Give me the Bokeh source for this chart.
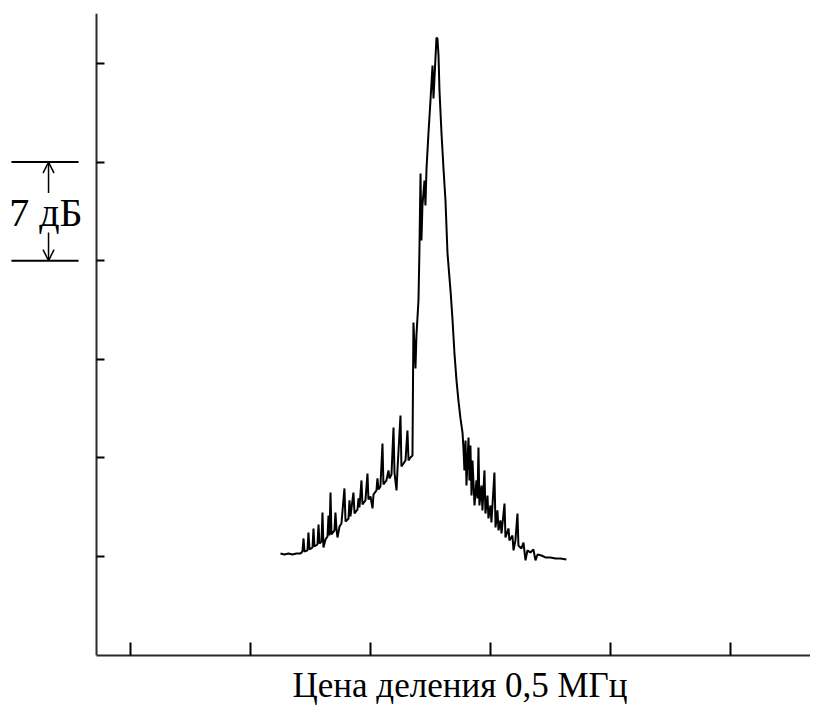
from bokeh.plotting import figure
from bokeh.models import Arrow, OpenHead, FixedTicker, Range1d, Title
from bokeh.core.properties import value
from bokeh.embed import file_html
from bokeh.resources import INLINE

# Frequency in divisions (1 division = 0.5 MHz), level in dB
freq_div = [
    1.250, 1.283, 1.317, 1.350, 1.383, 1.417, 1.433, 1.442, 1.450, 1.475,
    1.483, 1.492, 1.517, 1.525, 1.533, 1.558, 1.567, 1.575, 1.592, 1.600,
    1.608, 1.625, 1.642, 1.650, 1.658, 1.667, 1.675, 1.700, 1.708, 1.717,
    1.725, 1.742, 1.758, 1.783, 1.792, 1.817, 1.825, 1.833, 1.858, 1.867,
    1.892, 1.900, 1.908, 1.925, 1.933, 1.958, 1.975, 1.983, 2.000, 2.017,
    2.025, 2.050, 2.058, 2.067, 2.083, 2.100, 2.108, 2.133, 2.150, 2.158,
    2.175, 2.192, 2.200, 2.217, 2.225, 2.250, 2.258, 2.275, 2.292, 2.308,
    2.317, 2.333, 2.350, 2.358, 2.375, 2.383, 2.400, 2.408, 2.417, 2.425,
    2.433, 2.450, 2.458, 2.467, 2.483, 2.500, 2.517, 2.525, 2.550, 2.558,
    2.567, 2.575, 2.592, 2.608, 2.625, 2.642, 2.667, 2.683, 2.700, 2.717,
    2.733, 2.750, 2.767, 2.775, 2.783, 2.792, 2.800, 2.817, 2.825, 2.833,
    2.842, 2.850, 2.867, 2.883, 2.892, 2.900, 2.908, 2.925, 2.933, 2.950,
    2.958, 2.975, 2.983, 3.000, 3.008, 3.033, 3.042, 3.058, 3.067, 3.083,
    3.092, 3.117, 3.125, 3.150, 3.158, 3.183, 3.192, 3.208, 3.225, 3.233,
    3.258, 3.275, 3.292, 3.308, 3.333, 3.358, 3.375, 3.392, 3.425, 3.458,
    3.500, 3.542, 3.583, 3.633,
]
level_db = [
    0.21, 0.14, 0.21, 0.14, 0.21, 0.21, 0.35, 1.28, 0.35, 0.43,
    1.70, 0.50, 0.64, 1.99, 0.71, 0.85, 2.27, 0.92, 1.06, 3.12,
    0.64, 1.21, 1.42, 2.91, 1.49, 4.54, 1.56, 1.85, 3.12, 1.92,
    1.35, 2.13, 2.34, 4.83, 2.48, 2.70, 3.98, 2.84, 4.54, 3.05,
    3.34, 4.12, 3.48, 5.40, 3.69, 3.98, 5.89, 4.05, 4.26, 3.41,
    4.40, 4.69, 5.54, 4.76, 4.97, 8.02, 5.11, 5.40, 6.11, 5.54,
    5.82, 9.16, 5.96, 4.69, 6.18, 10.01, 6.39, 6.60, 6.82, 8.94,
    6.82, 7.03, 7.17, 16.61, 13.35, 15.69, 18.17, 21.72, 27.19, 22.43,
    24.92, 26.69, 24.92, 27.54, 30.03, 32.37, 34.86, 32.51, 36.84, 36.77,
    35.57, 33.08, 30.03, 27.61, 25.27, 21.51, 18.88, 16.90, 14.41, 12.49,
    11.07, 9.80, 8.80, 7.67, 6.11, 8.23, 5.04, 8.45, 5.40, 7.88,
    4.33, 6.82, 3.62, 5.40, 4.12, 7.74, 3.62, 5.04, 3.27, 6.11,
    3.05, 4.33, 2.70, 3.62, 2.41, 5.96, 2.06, 3.27, 1.85, 2.56,
    1.63, 3.76, 1.35, 1.99, 1.14, 1.49, 0.43, 1.14, 3.05, 0.78,
    0.57, 0.99, -0.28, 0.43, 0.28, 0.50, -0.28, 0.14, 0.07, -0.07,
    -0.07, -0.14, -0.14, -0.21,
]

x_ticks = [0, 1, 2, 3, 4, 5]
y_ticks = [0, 7, 14, 21, 28, 35]
x_axis_start = -0.283
x_axis_end = 5.667
scale_top_db = 28
scale_bottom_db = 21
scale_text = "7 дБ"
x_title = "Цена деления 0,5 МГц"

FONT = "Liberation Serif"

p = figure(frame_width=810, frame_height=642, output_backend="svg",
           toolbar_location=None, y_axis_location="right",
           x_range=Range1d(-1.0833, x_axis_end), y_range=Range1d(-7.03, 38.55),
           min_border_left=0, min_border_right=0, min_border_top=13,
           min_border_bottom=0)
p.outline_line_color = None
p.grid.visible = False
p.background_fill_color = "white"
p.border_fill_color = "white"

# y axis drawn at the left end of the x axis
yax = p.yaxis[0]
yax.fixed_location = x_axis_start
yax.ticker = FixedTicker(ticks=y_ticks)
yax.major_tick_in = 0
yax.major_tick_out = 8

xax = p.xaxis[0]
xax.ticker = FixedTicker(ticks=x_ticks)
xax.bounds = (x_axis_start, x_axis_end)
xax.major_tick_in = 13
xax.major_tick_out = 0

for ax, ticks in ((xax, x_ticks), (yax, y_ticks)):
    ax.major_label_overrides = {t: "" for t in ticks}
    ax.major_label_text_font_size = "1px"
    ax.major_label_standoff = 0
    ax.minor_tick_line_color = None
    ax.major_tick_line_width = 2
    ax.major_tick_line_color = "black"
    ax.axis_line_width = 2
    ax.axis_line_color = "#2a2a2a"

p.line(freq_div, level_db, line_color="black", line_width=2)

# "7 дБ" scale marker left of the axis
p.segment(x0=[-0.992, -0.992], y0=[scale_top_db, scale_bottom_db],
          x1=[-0.433, -0.433], y1=[scale_top_db, scale_bottom_db],
          line_color="black", line_width=2)
p.add_layout(Arrow(end=OpenHead(size=11, line_width=1.5, line_color="black"),
                   x_start=-0.683, y_start=25.8, x_end=-0.683, y_end=scale_top_db,
                   line_color="black", line_width=1.5))
p.add_layout(Arrow(end=OpenHead(size=11, line_width=1.5, line_color="black"),
                   x_start=-0.683, y_start=23.0, x_end=-0.683, y_end=scale_bottom_db,
                   line_color="black", line_width=1.5))
p.text(x=[-0.705], y=[24.4], text=[scale_text], text_font=value(FONT),
       text_font_size="40px", text_align="center", text_baseline="middle",
       text_color="black")

p.add_layout(Title(text=x_title, align="left", offset=292, standoff=16,
                   text_font=FONT, text_font_size="35px",
                   text_font_style="normal", text_color="black"), "below")

open("out.html", "w").write(file_html(p, INLINE))
